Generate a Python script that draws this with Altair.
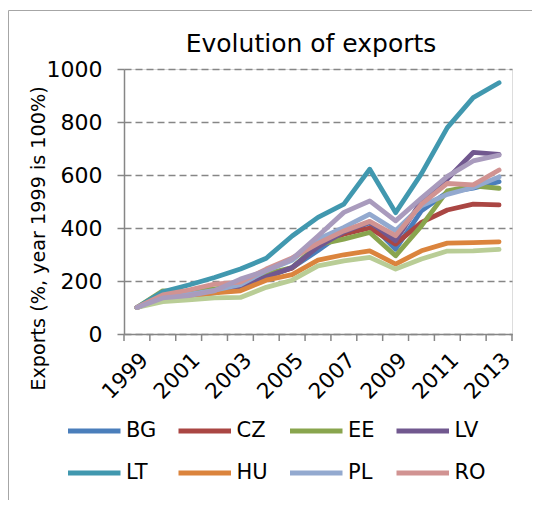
import altair as alt
import pandas as pd

years = list(range(1999, 2014))
countries = ["BG", "CZ", "EE", "LV", "LT", "HU", "PL", "RO", "SI", "SK"]
legend_countries = ["BG", "CZ", "EE", "LV", "LT", "HU", "PL", "RO"]

bg = [100, 140, 150, 160, 175, 214, 250, 315, 385, 420, 320, 465, 535, 550, 575]
cz = [100, 140, 150, 160, 170, 221, 248, 333, 377, 400, 339, 421, 468, 490, 487]
ee = [100, 163, 160, 170, 180, 227, 251, 337, 358, 383, 295, 408, 540, 559, 550]
lv = [100, 135, 145, 155, 178, 216, 251, 329, 385, 423, 352, 502, 585, 685, 678]
lt = [100, 159, 185, 213, 245, 286, 370, 440, 490, 622, 458, 605, 779, 892, 948]
hu = [100, 140, 141, 155, 163, 203, 224, 279, 299, 314, 264, 314, 343, 345, 348]
pl = [100, 140, 150, 165, 186, 239, 278, 358, 402, 452, 390, 484, 527, 553, 593]
ro = [100, 148, 166, 188, 196, 245, 287, 342, 389, 425, 371, 490, 568, 563, 619]
si = [100, 122, 129, 136, 138, 176, 203, 257, 276, 289, 245, 283, 313, 314, 319]
sk = [100, 136, 145, 163, 207, 239, 283, 370, 459, 502, 427, 513, 595, 653, 675]

colors = ["#4a7ebb", "#aa4643", "#89a54e", "#71588f", "#4198af",
          "#db843d", "#93a9cf", "#d19392", "#b9cd96", "#a99bbd"]

label_years = [1999, 2001, 2003, 2005, 2007, 2009, 2011, 2013]
tick_edges = [1998.5, 1999.5, 2000.5, 2001.5, 2002.5, 2003.5, 2004.5, 2005.5,
              2006.5, 2007.5, 2008.5, 2009.5, 2010.5, 2011.5, 2012.5, 2013.5]
y_ticks = [0, 200, 400, 600, 800, 1000]

series = [bg, cz, ee, lv, lt, hu, pl, ro, si, sk]
rows = []
for c, vals in zip(countries, series):
    for yr, v in zip(years, vals):
        rows.append({"country": c, "year": yr, "value": v})
df = pd.DataFrame(rows)
ticks_df = pd.DataFrame({"edge": tick_edges})

FONT = "DejaVu Sans"
GRAY = "#868686"

xscale = alt.Scale(domain=[1998.5, 2013.5], nice=False, zero=False)

lines = alt.Chart(df).mark_line(strokeWidth=4.8, strokeCap="round", strokeJoin="round").encode(
    x=alt.X("year:Q", scale=xscale,
            axis=alt.Axis(values=label_years, format="d", labelAngle=-45, ticks=False,
                          grid=False, domainColor=GRAY, domainWidth=1.5,
                          labelFontSize=21.5, labelFont=FONT, labelColor="black",
                          labelPadding=15, labelOverlap=False, title=None)),
    y=alt.Y("value:Q", scale=alt.Scale(domain=[0, 1000], nice=False),
            axis=alt.Axis(values=y_ticks, format="d", grid=True, gridDash=[7, 4],
                          gridColor=GRAY, gridWidth=1.5, tickSize=7, tickColor=GRAY,
                          tickWidth=1.5, domainColor=GRAY, domainWidth=1.5,
                          labelFontSize=22, labelFont=FONT, labelColor="black",
                          labelPadding=15,
                          title="Exports (%, year 1999 is 100%)", titleFont=FONT,
                          titleFontSize=19.2, titleFontWeight="normal", titleColor="black",
                          titleX=-86, titleY=169, titleAngle=-90, titleAlign="center",
                          titleBaseline="middle")),
    color=alt.Color("country:N", sort=countries,
                    scale=alt.Scale(domain=countries, range=colors),
                    legend=alt.Legend(values=legend_countries, orient="none",
                                      legendX=-27, legendY=349, direction="horizontal",
                                      columns=4, title=None,
                                      symbolType="M-4,0L1,0", symbolSize=441,
                                      symbolStrokeWidth=5,
                                      labelFont=FONT, labelFontSize=21, labelColor="black",
                                      labelOffset=3, columnPadding=11.5, rowPadding=19,
                                      padding=0)),
)

tickmarks = alt.Chart(ticks_df).mark_rule(color=GRAY, strokeWidth=1.5).encode(
    x=alt.X("edge:Q", scale=xscale),
    y=alt.value(265),
    y2=alt.value(272),
)

frame = alt.Chart(ticks_df.head(1)).mark_rect(fill=None, stroke="#a6a6a6", strokeWidth=1).encode(
    x=alt.value(-115.5), x2=alt.value(700), y=alt.value(-58.5), y2=alt.value(700)
)

chart = alt.layer(frame, lines, tickmarks).properties(
    width=388, height=265,
    title=alt.TitleParams("Evolution of exports", font=FONT, fontSize=25,
                          fontWeight="normal", color="black", anchor="middle",
                          frame="group", dx=-7, offset=-47),
    autosize=alt.AutoSizeParams(type="none"),
    padding={"left": 116, "top": 61, "right": 20, "bottom": 166},
).configure_view(stroke=GRAY, strokeWidth=1.5).configure(background="white")

chart.save("out.html", embed_options={"renderer": "svg", "actions": False})
